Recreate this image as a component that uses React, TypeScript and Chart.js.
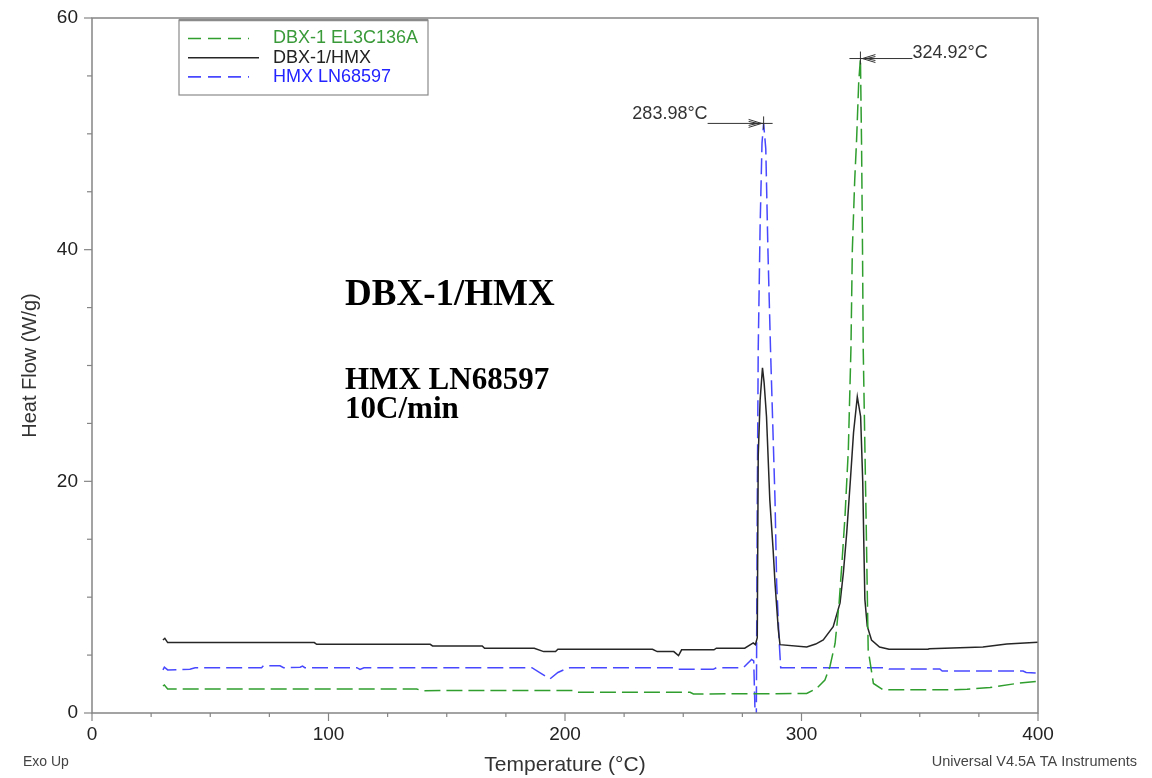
import React, { useEffect, useRef } from 'react';
import { Chart, registerables } from 'chart.js';

Chart.register(...registerables);

// ---------- data ----------
const greenName = 'DBX-1 EL3C136A';
const blackName = 'DBX-1/HMX';
const blueName = 'HMX LN68597';

const greenT = [30, 30.6, 32, 137.3, 139.4, 203.5, 204.9, 252.9, 254.3, 302.2, 306.4, 309.9, 312, 314.2, 315.9, 317, 318.4, 319.8, 320.9, 321.5, 322.5, 323.3, 324.2, 324.92, 325.4, 325.8, 326.1, 327.3, 328.2, 330.4, 334.5, 362.8, 370, 379.7, 391, 400];
const greenHF = [2.33, 2.42, 2.07, 2.07, 1.93, 1.95, 1.79, 1.79, 1.64, 1.68, 2.12, 2.85, 4.0, 6.0, 9.5, 12.65, 17.0, 22.7, 31.4, 40, 46, 49.5, 54.5, 56.5, 49.0, 40, 31.4, 17, 5.45, 2.55, 2.0, 2.0, 2.05, 2.2, 2.55, 2.75];

const blackT = [30, 30.8, 32, 94, 95, 143, 144, 165, 166, 187, 191, 196, 197, 237, 239, 246, 248, 249.3, 263, 264, 276, 279.6, 280.5, 281.3, 281.7, 282.5, 283.5, 284.2, 285.2, 286.6, 288, 288.8, 290.2, 290.9, 302.2, 306, 309.2, 313.4, 316.3, 317.7, 319.1, 320.6, 322, 323.6, 325, 325.9, 326.4, 326.8, 327.8, 329.6, 333, 337, 353.5, 354, 376.7, 386.8, 400];
const blackHF = [6.3, 6.45, 6.08, 6.08, 5.93, 5.93, 5.79, 5.79, 5.59, 5.59, 5.3, 5.3, 5.5, 5.5, 5.3, 5.3, 4.95, 5.45, 5.45, 5.59, 5.59, 6.05, 5.9, 6.5, 22.2, 27, 29.8, 28.5, 25.6, 18.4, 14.1, 11.2, 7.2, 5.9, 5.7, 5.95, 6.3, 7.46, 9.5, 12.1, 15.5, 19.9, 24.2, 27.3, 25.6, 19.9, 14.1, 9.8, 7.5, 6.3, 5.7, 5.5, 5.5, 5.55, 5.7, 5.95, 6.1];

const blueT = [30, 30.6, 32, 41.4, 43.6, 71.7, 72.5, 79.5, 81, 88, 89, 90, 112, 113.3, 115, 186, 190, 193.7, 197, 200.7, 202, 245.8, 247.9, 262.7, 264, 275.4, 278.9, 279.8, 280.3, 280.6, 280.9, 281.3, 281.7, 282.5, 283.3, 283.98, 284.9, 285.8, 286.9, 288.8, 289.5, 290.6, 291.2, 336, 337, 358.5, 359.5, 393.7, 395, 400];
const blueHF = [3.72, 3.95, 3.72, 3.77, 3.91, 3.91, 4.08, 4.08, 3.91, 3.95, 4.05, 3.91, 3.91, 3.77, 3.91, 3.91, 3.4, 2.95, 3.5, 3.84, 3.91, 3.91, 3.77, 3.77, 3.91, 3.91, 4.63, 4.5, 0.5, -0.5, -0.3, 17.9, 31.4, 42, 49.2, 50.9, 48.7, 40, 31.4, 18.4, 11.2, 6.05, 3.9, 3.9, 3.8, 3.8, 3.63, 3.63, 3.5, 3.45];

const peakT = [283.98, 324.92];
const peakHF = [50.9, 56.5];
const peakLabels = ['283.98°C', '324.92°C'];

const xTickLabels = [0, 100, 200, 300, 400];
const yTickLabels = [0, 20, 40, 60];

const xTitle = 'Temperature (°C)';
const yTitle = 'Heat Flow (W/g)';
const noteTitle = 'DBX-1/HMX';
const noteLines = ['HMX LN68597', '10C/min'];
const footLeft = 'Exo Up';
const footRight = 'Universal V4.5A TA Instruments';

const GREEN = '#2f9e2f';
const BLACK = '#262626';
const BLUE = '#4848ff';
const AXIS = '#858585';

const toPts = (xs: number[], ys: number[]) => xs.map((x, i) => ({ x, y: ys[i] }));

const decorPlugin = {
  id: 'decor',
  afterDraw(chart: any) {
    const { ctx, chartArea: a, scales } = chart;
    const xs = scales.x;
    const ys = scales.y;
    ctx.save();

    // frame
    ctx.strokeStyle = AXIS;
    ctx.lineWidth = 1.5;
    ctx.strokeRect(a.left, a.top, a.right - a.left, a.bottom - a.top);

    // ticks
    ctx.lineWidth = 1.2;
    xs.ticks.forEach((t: any) => {
      const px = xs.getPixelForValue(t.value);
      const len = xTickLabels.includes(t.value) ? 8 : 4;
      ctx.beginPath();
      ctx.moveTo(px, a.bottom);
      ctx.lineTo(px, a.bottom + len);
      ctx.stroke();
    });
    ys.ticks.forEach((t: any) => {
      const py = ys.getPixelForValue(t.value);
      const len = yTickLabels.includes(t.value) ? 8 : 5;
      ctx.beginPath();
      ctx.moveTo(a.left - len, py);
      ctx.lineTo(a.left, py);
      ctx.stroke();
    });

    // legend
    const lx = a.left + 87;
    const ly = a.top + 2;
    const lw = 249;
    const lh = 75;
    ctx.strokeStyle = '#8a8a8a';
    ctx.lineWidth = 1.2;
    ctx.strokeRect(lx, ly, lw, lh);
    ctx.lineWidth = 2.5;
    ctx.beginPath();
    ctx.moveTo(lx, ly);
    ctx.lineTo(lx + lw, ly);
    ctx.stroke();
    const entries = [
      { name: greenName, color: GREEN, text: '#3a9a3a', dash: [13, 7], len: 61 },
      { name: blackName, color: BLACK, text: '#222222', dash: [], len: 71 },
      { name: blueName, color: BLUE, text: '#2323ff', dash: [13, 7], len: 61 },
    ];
    ctx.font = '18px "Liberation Sans", Arial, sans-serif';
    ctx.textBaseline = 'middle';
    ctx.textAlign = 'left';
    entries.forEach((e, i) => {
      const yy = ly + 18.5 + i * 19.2;
      ctx.strokeStyle = e.color;
      ctx.lineWidth = 1.6;
      ctx.setLineDash(e.dash);
      ctx.beginPath();
      ctx.moveTo(lx + 9, yy);
      ctx.lineTo(lx + 9 + e.len, yy);
      ctx.stroke();
      ctx.setLineDash([]);
      ctx.fillStyle = e.text;
      ctx.fillText(e.name, lx + 94, yy);
    });

    // peak annotations
    ctx.strokeStyle = '#333333';
    ctx.fillStyle = '#333333';
    ctx.lineWidth = 1;
    ctx.font = '18px "Liberation Sans", Arial, sans-serif';
    ctx.textBaseline = 'alphabetic';
    peakT.forEach((t, i) => {
      const px = xs.getPixelForValue(t);
      const py = ys.getPixelForValue(peakHF[i]);
      const side = i === 0 ? -1 : 1;
      const len = i === 0 ? 56 : 52;
      const ex = px + side * len;
      ctx.beginPath();
      ctx.moveTo(px, py);
      ctx.lineTo(ex, py);
      // cross
      ctx.moveTo(px - 11, py);
      ctx.lineTo(px + 9, py);
      ctx.moveTo(px, py - 7);
      ctx.lineTo(px, py + 6);
      // arrow head
      ctx.moveTo(px + side * 15, py - 4);
      ctx.lineTo(px + side * 2, py);
      ctx.lineTo(px + side * 15, py + 4);
      ctx.moveTo(px + side * 15, py - 2);
      ctx.lineTo(px + side * 6, py);
      ctx.lineTo(px + side * 15, py + 2);
      ctx.stroke();
      ctx.textAlign = side < 0 ? 'right' : 'left';
      ctx.fillText(peakLabels[i], ex, py - (i === 0 ? 4 : 1));
    });

    // big notes
    ctx.fillStyle = '#000000';
    ctx.textAlign = 'left';
    ctx.textBaseline = 'alphabetic';
    const nx = xs.getPixelForValue(107);
    ctx.font = 'bold 37px "Liberation Serif", "Times New Roman", serif';
    ctx.fillText(noteTitle, nx, ys.getPixelForValue(35.22));
    ctx.font = 'bold 31px "Liberation Serif", "Times New Roman", serif';
    ctx.fillText(noteLines[0], nx, ys.getPixelForValue(27.95));
    ctx.fillText(noteLines[1], nx, ys.getPixelForValue(25.44));

    // footers
    ctx.fillStyle = '#444444';
    ctx.textBaseline = 'middle';
    ctx.font = '14px "Liberation Sans", Arial, sans-serif';
    ctx.textAlign = 'left';
    ctx.fillText(footLeft, 23, 762);
    ctx.font = '14.5px "Liberation Sans", Arial, sans-serif';
    ctx.textAlign = 'right';
    ctx.fillText(footRight, 1137, 762);

    ctx.restore();
  },
};

export default function App() {
  const ref = useRef<HTMLCanvasElement | null>(null);

  useEffect(() => {
    if (!ref.current) return;
    const chart = new Chart(ref.current, {
      type: 'line',
      data: {
        datasets: [
          {
            label: greenName,
            data: toPts(greenT, greenHF),
            borderColor: GREEN,
            borderWidth: 1.5,
            borderDash: [16, 6],
            pointRadius: 0,
            fill: false,
            tension: 0,
          },
          {
            label: blackName,
            data: toPts(blackT, blackHF),
            borderColor: BLACK,
            borderWidth: 1.5,
            pointRadius: 0,
            fill: false,
            tension: 0,
          },
          {
            label: blueName,
            data: toPts(blueT, blueHF),
            borderColor: BLUE,
            borderWidth: 1.5,
            borderDash: [16, 6],
            pointRadius: 0,
            fill: false,
            tension: 0,
          },
        ],
      },
      options: {
        responsive: false,
        animation: false,
        devicePixelRatio: 1,
        parsing: false,
        layout: { padding: { top: 18, right: 114, left: 0, bottom: 0 } },
        plugins: {
          legend: { display: false },
          tooltip: { enabled: false },
        },
        scales: {
          x: {
            type: 'linear',
            min: 0,
            max: 400,
            grid: { display: false },
            border: { display: false },
            ticks: {
              stepSize: 25,
              autoSkip: false,
              maxRotation: 0,
              padding: 2,
              color: '#222222',
              font: { family: '"Liberation Sans", Arial, sans-serif', size: 19 },
              callback: (v: any) => (xTickLabels.includes(Number(v)) ? String(v) : ''),
            },
            title: {
              display: true,
              text: xTitle,
              color: '#333333',
              font: { family: '"Liberation Sans", Arial, sans-serif', size: 21 },
              padding: { top: 0, bottom: 0 },
            },
            afterFit: (s: any) => {
              s.height = 65;
            },
          },
          y: {
            type: 'linear',
            min: 0,
            max: 60,
            grid: { display: false },
            border: { display: false },
            ticks: {
              stepSize: 5,
              autoSkip: false,
              padding: 6,
              color: '#222222',
              font: { family: '"Liberation Sans", Arial, sans-serif', size: 19 },
              callback: (v: any) => (yTickLabels.includes(Number(v)) ? String(v) : ''),
            },
            title: {
              display: true,
              text: yTitle,
              color: '#333333',
              font: { family: '"Liberation Sans", Arial, sans-serif', size: 20 },
              padding: { top: 18, bottom: 0 },
            },
            afterFit: (s: any) => {
              s.width = 92;
            },
          },
        },
      },
      plugins: [decorPlugin],
    });
    return () => chart.destroy();
  }, []);

  return (
    <div style={{ position: 'fixed', left: 0, top: 0, width: 1152, height: 778, background: '#fff' }}>
      <canvas ref={ref} width={1152} height={778} style={{ display: 'block' }} />
    </div>
  );
}
